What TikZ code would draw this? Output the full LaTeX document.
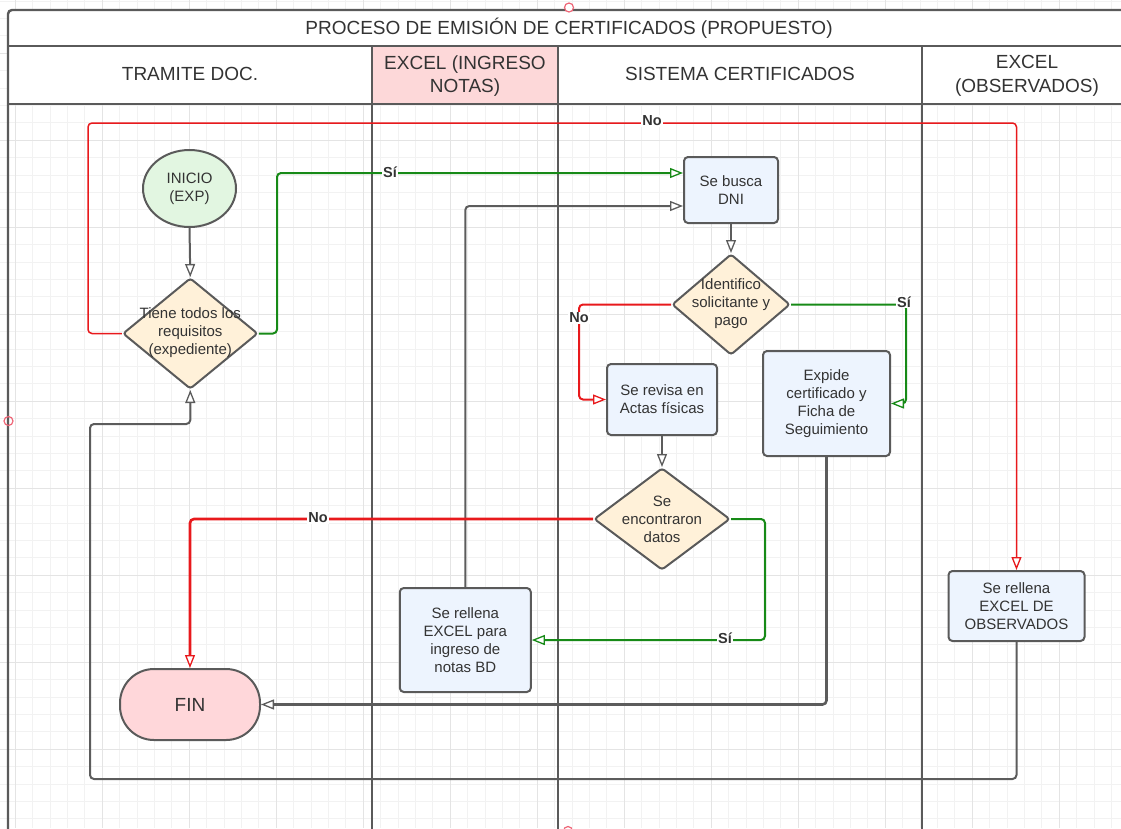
\documentclass[tikz,border=0pt]{standalone}
\usepackage{fontspec}
\setmainfont{Liberation Sans}
\usetikzlibrary{arrows.meta,shapes.geometric}

\definecolor{gridminor}{HTML}{F2F2F2}
\definecolor{gridmajor}{HTML}{E4E4E4}
\definecolor{frameline}{HTML}{5A5A5A}
\definecolor{txt}{HTML}{333333}
\definecolor{boxfill}{HTML}{EDF4FE}
\definecolor{decfill}{HTML}{FFF1D9}
\definecolor{startfill}{HTML}{E2F6E1}
\definecolor{endfill}{HTML}{FFD7DA}
\definecolor{headpink}{HTML}{FDD8D9}
\definecolor{lnred}{HTML}{E8191C}
\definecolor{lngreen}{HTML}{178A17}
\definecolor{lngray}{HTML}{5C5C5C}
\definecolor{handle}{HTML}{EE6677}

\begin{document}
\begin{tikzpicture}[x=1pt,y=-1pt,
  nodetext/.style={font=\fontsize{15}{18}\selectfont, text=txt, align=center},
  procbox/.style={nodetext, rectangle, draw=frameline, line width=2pt, fill=boxfill,
    rounded corners=4pt, inner sep=0pt},
  decision/.style={diamond, draw=frameline, line width=2pt, fill=decfill,
    rounded corners=3pt, inner sep=0pt},
  dectext/.style={nodetext, inner sep=0pt},
  startnode/.style={nodetext, ellipse, draw=frameline, line width=2pt, fill=startfill,
    inner sep=0pt, minimum width=93pt, minimum height=77pt},
  endnode/.style={rectangle, draw=frameline, line width=2pt, fill=endfill,
    rounded corners=34pt, inner sep=0pt, minimum width=140pt, minimum height=71pt,
    font=\fontsize{19}{22}\selectfont, text=txt},
  lanehead/.style={font=\fontsize{19}{23.7}\selectfont, text=txt, align=center},
  laneline/.style={frameline, line width=2.4pt},
  flow/.style={line width=2pt, rounded corners=4pt},
  arrowto/.style={-{Triangle[length=13pt,width=10pt,fill=white,line width=1.3pt]}},
  lbl/.style={font=\bfseries\fontsize{14.5}{16}\selectfont, text=txt, fill=white, inner sep=1pt},
]
\useasboundingbox (0,0) rectangle (1121,828);
\clip (0,0) rectangle (1121,828);

% background grid
\foreach \i in {0,...,65}
  \draw[gridminor, line width=0.9pt] ({-2.1+17.4*\i},0) -- ({-2.1+17.4*\i},828);
\foreach \j in {0,...,48}
  \draw[gridminor, line width=0.9pt] (0,{1.1+17.4*\j}) -- (1121,{1.1+17.4*\j});
\foreach \k in {0,...,12}
  \draw[gridmajor, line width=1pt] ({15.3+87*\k},0) -- ({15.3+87*\k},828);
\foreach \k in {0,...,8}
  \draw[gridmajor, line width=1pt] (0,{53.3+87*\k}) -- (1121,{53.3+87*\k});

% pool header and swimlanes
\fill[white] (8,10) rectangle (1140,104);
\fill[headpink] (372,46) rectangle (558,104);
\draw[laneline, rounded corners=4pt] (1140,10) -- (8,10) -- (8,840);
\draw[laneline] (8,46) -- (1140,46);
\draw[laneline] (8,104) -- (1140,104);
\foreach \x in {372,558,922}
  \draw[laneline] (\x,46) -- (\x,840);

\node[lanehead] (title) at (569,28) {PROCESO DE EMISIÓN DE CERTIFICADOS (PROPUESTO)};
\node[lanehead] (laneA) at (190,73.5) {TRAMITE DOC.};
\node[lanehead] (laneB) at (465,76) {EXCEL (INGRESO\\NOTAS)};
\node[lanehead] (laneC) at (740,73.5) {SISTEMA CERTIFICADOS};
\node[lanehead] (laneD) at (1027,76) {EXCEL\\(OBSERVADOS)};

% flow nodes
\node[startnode] (inicio) at (189.5,188.5) {INICIO\\(EXP)};
\node[decision, minimum width=135pt, minimum height=111pt] (d1) at (190.3,333.5) {};
\node[dectext] (d1t) at (190.3,333) {Tiene todos los\\requisitos\\(expediente)};
\node[procbox, minimum width=94pt, minimum height=66pt] (busca) at (731,190) {Se busca\\DNI};
\node[decision, minimum width=118pt, minimum height=101pt] (d2) at (731,304.5) {};
\node[dectext] (d2t) at (731,304) {Identifico\\solicitante y\\pago};
\node[procbox, minimum width=110pt, minimum height=71pt] (revisa) at (662,399.5) {Se revisa en\\Actas físicas};
\node[procbox, minimum width=127pt, minimum height=105pt] (expide) at (826.5,403.5) {Expide\\certificado y\\Ficha de\\Seguimiento};
\node[decision, minimum width=136pt, minimum height=102pt] (d3) at (662,519) {};
\node[dectext] (d3t) at (662,519) {Se\\encontraron\\datos};
\node[procbox, minimum width=131pt, minimum height=104pt] (notas) at (465.3,640) {Se rellena\\EXCEL para\\ingreso de\\notas BD};
\node[endnode] (fin) at (190,704.5) {FIN};
\node[procbox, minimum width=136pt, minimum height=70pt] (obs) at (1016.5,606) {Se rellena\\EXCEL DE\\OBSERVADOS};

% connectors
\draw[flow, lngray, arrowto] (inicio.south) -- (d1.north);
\draw[flow, lnred, line width=1.5pt, arrowto] (d1.west) -| (88,123) -| (obs.north);
\draw[flow, lngreen, arrowto] (d1.east) -| (277,173) -- ([yshift=17pt]busca.west);
\draw[flow, lngray, arrowto] (notas.north) |- ([yshift=-16pt]busca.west);
\draw[flow, lngray, arrowto] (busca.south) -- (d2.north);
\draw[flow, lnred, arrowto] (d2.west) -| ([xshift=-27pt]revisa.west) -- (revisa.west);
\draw[flow, lngreen, arrowto] (d2.east) -| ([xshift=15pt]expide.east) -- (expide.east);
\draw[flow, lngray, arrowto] (revisa.south) -- (d3.north);
\draw[flow, lnred, line width=2.6pt, arrowto] (d3.west) -| (fin.north);
\draw[flow, lngreen, arrowto] (d3.east) -- ([xshift=34pt]d3.east) |- (notas.east);
\draw[flow, lngray, line width=2.6pt, arrowto] (expide.south) |- (fin.east);
\draw[flow, lngray, arrowto] (obs.south) -- ++(0,137) -| (90,424) -| (d1.south);

% connector labels
\node[lbl] (lno1) at (652,121) {No};
\node[lbl] (lsi1) at (390,172) {Sí};
\node[lbl] (lno2) at (579,318) {No};
\node[lbl] (lsi2) at (904,302) {Sí};
\node[lbl] (lno3) at (318,518) {No};
\node[lbl] (lsi3) at (725,638) {Sí};

% connection handles
\draw[handle, line width=1.2pt, fill=white] (569,7.5) circle (4.5pt);
\draw[handle, line width=1.2pt] (8.5,421) circle (4.5pt);
\draw[handle, line width=1.2pt, fill=white] (568,831) circle (4.5pt);
\end{tikzpicture}
\end{document}
